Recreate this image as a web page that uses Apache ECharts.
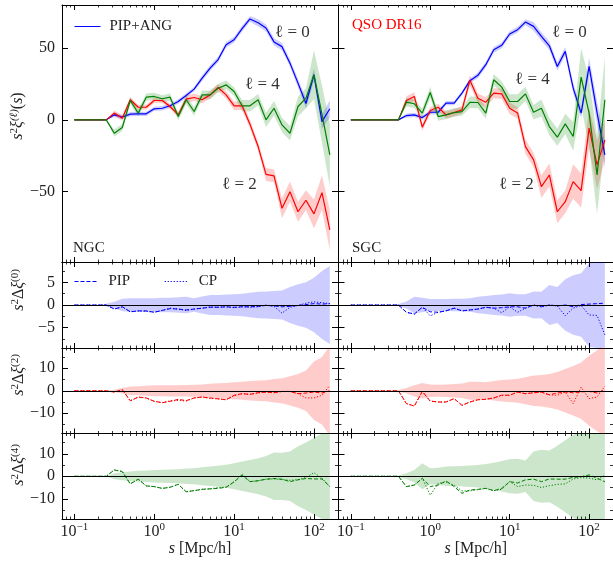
<!DOCTYPE html>
<html><head><meta charset="utf-8">
<script src="https://cdn.jsdelivr.net/npm/echarts@6/dist/echarts.min.js"></script>
<style>html,body{margin:0;padding:0;background:#fff}#c{width:613px;height:561px}</style>
</head><body><div id="c"></div>
<script>
// separation bins s [Mpc/h]
const S = [0.1,0.126,0.158,0.2,0.251,0.316,0.398,0.501,0.631,0.794,1,1.26,1.58,2,2.51,3.16,3.98,5.01,6.31,7.94,10,12.6,15.8,20,25.1,31.6,39.8,50.1,63.1,79.4,100,126,158];

// ---- top panels: s^2 xi_l (NGC) ----
const xi0N = [0,0,0,0,0,3.5,2,4,4.2,4.2,7.7,8.1,9.8,12.8,17,21.4,29,36,42,52.3,55.8,63.5,70.3,67.6,64,54.3,51,39.5,25.6,11.4,31.4,-1.2,7.7];
const xi2N = [0,0,0,0,0,4.7,1.2,14,8.8,8.8,13.5,13.5,9.3,3.5,14.4,15.6,14,17.4,22.5,17.4,9.8,9.8,-3,-18.6,-38,-39,-61.6,-50,-64,-56,-65.5,-50.7,-76.7];
const xi4N = [0,0,0,0,0,-9.3,-5.3,13.5,4.7,15.8,16.3,14.7,15.8,2.3,14,5.8,17.4,17.4,22,24.4,19.8,9.8,9.8,14,0,8.1,-3.5,-9.3,9.3,15.1,31.4,4,-24.4];
const err0N = [0,0,0,0,0,1.5,1.5,1.5,1.5,1.5,1.5,1.5,1.5,1.5,1.5,1.5,2,2,2,2,2,2,2,2.5,2.5,2.5,2.5,2.5,3,3.5,4.5,5,6];
const err2N = [0,0,0,0,0,1.8,1.8,1.8,1.8,1.8,1.8,1.8,1.8,1.8,2.5,2.5,2.5,2.5,2.5,2.5,3,3,3,3,4.5,4.5,7,7,7,7,10,12,14];
const err4N = [0,0,0,0,0,2.5,2.5,2.5,2.5,2.5,2.5,2.5,2.5,2.5,3,3,3,3,3,3,3,4,4,4,5,5,5,5,7,7,17,20,22];
// ---- top panels: s^2 xi_l (SGC) ----
const xi0S = [0,0,0,0,0,0,0,3,3.5,1.6,5.3,5.3,11.6,11.6,18.6,27.3,31,38.4,48.8,51.9,59.8,62.8,68.1,65.1,58.1,51.6,37.2,47.7,22.1,4.7,37.2,5,-24.4];
const xi2S = [0,0,0,0,0,0,0,13.5,16.3,-5.1,6.5,8.8,3.5,5.1,7,27.6,15.1,12.3,18.6,18.1,8.1,4.7,-18.6,-27.9,-46.5,-38.4,-64,-57,-43,-49.3,-5.8,-31.4,-14];
const xi4S = [0,0,0,0,0,0,0,12.3,11.2,4.7,19.1,2.3,3.5,5.1,5.8,12.2,12.1,4.7,27.9,22.8,12.8,12.8,18.1,5.3,8.1,-4.7,-12.1,-2.8,-11.6,29.8,4.7,-38.4,14];
const err0S = [0,0,0,0,0,0,0,1.5,1.5,1.5,1.5,1.5,1.5,1.5,1.5,1.5,2,2,2,2,2,2,2,3,3,3,3,3,3.5,3.5,6,8,9];
const err2S = [0,0,0,0,0,0,0,3,3,2.5,2.5,2.5,2.5,2.5,2.5,3.5,3.5,3.5,3.5,3.5,4,4,5,5,8,8,8,8,12,12,14,17,14];
const err4S = [0,0,0,0,0,0,0,3,3,3,4,3,3,3,3,4,4,4,4,4,5,5,5,5,6,6,6,7,10,20,24,27,30];

// ---- residual panels NGC ----
const band0N = [0,0,0,0,0.3,0.7,1.4,1.5,1.5,1.5,1.5,1.6,1.6,1.7,1.8,1.5,1.9,2.2,2.2,2.3,2.4,2.5,2.7,2.9,3,3.1,3.2,4,4.6,5,6,7.5,8.6];
const pip0N = [0,0,0,0,0,-0.9,-0.4,-1.5,-1.3,-1.3,-1.6,-1.2,-0.8,-0.9,-1.1,-0.9,-0.7,-0.5,-0.5,-0.4,-0.5,-0.4,-0.4,-0.3,-0.1,-0.2,-0.4,-0.3,-0.1,0.1,0.3,0.2,0.3];
const cp0N = [0,0,0,0,0,-0.9,-0.4,-1.5,-1.3,-1.4,-1.6,-1.2,-0.7,-0.9,-1.2,-0.9,-0.7,-0.4,-0.5,-0.4,-0.6,-0.4,-0.5,-0.4,0,-0.3,-1.8,-0.5,-0.1,0.4,0.7,0.5,0.3];
const band2N = [0,0,0,0,0,0.5,1.2,1.9,2,2.2,2.4,2.4,2.5,2.5,2.6,2.7,2.8,3.1,3.3,3.5,3.8,4,4.3,4.6,4.7,5.2,5.6,6.5,7.5,9,13,15,20];
const pip2N = [0,0,0,0,0,-0.6,0.5,-4.4,-2.8,-3.2,-4.7,-5.3,-4.7,-3.8,-4.4,-3.2,-2.8,-3.2,-3.6,-4,-2,-1.3,-1.6,-0.9,-0.6,-0.9,-0.3,-0.3,-1.3,-1,-0.6,-1,0];
const cp2N = [0,0,0,0,0,-0.6,0.5,-4.6,-2.8,-3.2,-4.7,-5.3,-4.5,-4.3,-4.6,-3.2,-2.8,-3.4,-3.6,-4,-2.2,-1.3,-1.6,-0.9,-0.6,-0.9,-0.3,-0.3,-1.3,-3.2,-3.2,-2,2.4];
const band4N = [0,0,0,0,0,1.3,1.8,2.1,2.4,2.6,2.8,2.9,3,3.1,3.4,3.6,4,4.3,4.7,5.1,5.8,6.6,7.2,8,9,10.6,10.5,11,13.3,15,17,19,21];
const pip4N = [0,0,0,0,0,2.8,2.1,-3.4,-1.3,-4.3,-4.6,-5.4,-4.9,-3.6,-6.9,-6.4,-5.8,-5.6,-5.4,-4.9,-2.5,0.5,-2.4,-2,-1.3,-1,-1.3,-2.4,-1.6,-1,-1.2,-1.2,-4.6];
const cp4N = [0,0,0,0,0,2.8,2.1,-3.4,-1.3,-4.3,-4.6,-5.4,-4.9,-3.6,-6.9,-6.4,-5.8,-5.6,-5,-4.9,-2.5,1,-2.4,-2,-1.3,-1.2,-1.5,-1.8,-1.5,-0.6,1.6,-0.9,-4.6];
// ---- residual panels SGC ----
const band0S = [0,0,0,0,0,0,0.2,0.8,1.8,1.6,1.3,1.3,1.3,1.4,1.4,1.5,1.8,2,2.2,2.3,2.6,2.4,2.4,3,2.9,4.4,4,5.7,6.6,7,9.2,9.5,9.5];
const pip0S = [0,0,0,0,0,0,0,-1.6,-2,-0.5,-1.5,-1.6,-1.3,-0.7,-1.3,-1.1,-0.9,-0.5,-0.7,-0.6,-0.4,-0.4,-0.7,0,-0.4,0,-0.2,0,-0.4,0.1,0.2,0.3,0.4];
const cp0S = [0,0,0,0,0,0,0,-1.6,-2,-0.5,-2.4,-1.6,-1.3,-0.7,-1.3,-1.1,-0.9,-0.5,-0.7,-1.7,-0.4,-1.6,-0.7,0,-0.4,0,-0.2,-2.4,-0.7,-0.1,-2.2,-2.3,-6.6];
const band2S = [0,0,0,0,0,0,0.3,1.2,2.5,3.4,2.8,2.7,2.8,3,3.2,4,4,3.8,4.3,4.8,5,5.3,6,6.8,7,7.5,8.3,9.7,11,12.6,15.6,18,20];
const pip2S = [0,0,0,0,0,0,0,-5.7,-6.8,-0.3,-4.6,-5,-5,-3.5,-6.5,-5,-4,-3.8,-3.2,-2,-2,-0.6,-1.3,-0.9,-0.6,-1.8,-1,-0.6,-0.9,-0.5,-0.3,-1,0.5];
const cp2S = [0,0,0,0,0,0,0,-5.7,-6.8,-0.3,-4.6,-5,-5,-3.5,-6.5,-5,-4,-3.8,-3.2,-2,-2,-0.6,-1.3,-0.9,-0.6,-1.8,-2,-0.6,-5.7,1.6,-3.5,-2.8,2];
const band4S = [0,0,0,0,0,0,0.3,1.3,2.8,5.8,3.6,3.8,4.3,4.4,4.6,4.8,5,5.5,6,6.8,7.6,7.8,7,11,11.8,11.5,13.6,16,18.5,20,21,22,22];
const pip4S = [0,0,0,0,0,0,0,-4.6,-3.9,-0.9,-4.6,-3.9,-2.1,-4.6,-7.6,-6.1,-5.8,-5.4,-6.4,-5.4,-2.4,-3,-1.6,-1.3,-2.4,-1.2,-1.3,-1.3,-0.5,-0.2,0.6,-0.9,-2.4];
const cp4S = [0,0,0,0,0,0,0,-4.6,-3.9,-0.9,-8.4,-3.2,-2.5,-4,-6.5,-6.5,-6,-5.4,-6.4,-5.8,-2.4,-4.6,-3.9,-4,-5,-4.2,-3.6,-3.4,-1.2,-0.6,-0.8,-1.6,0.5];

// tick values
const xMajor = [0.1, 1, 10, 100];
const xMinor = [0.08,0.09,0.2,0.3,0.4,0.5,0.6,0.7,0.8,0.9,2,3,4,5,6,7,8,9,20,30,40,50,60,70,80,90];
const yMajorRows = [[-50,0,50],[-5,0,5],[-10,0,10],[-10,0,10]];
const yMinorRows = [[],[-7.5,-2.5,2.5,7.5],[-15,-5,5,15],[-15,-5,5,15]];
const yRange = [[-99,80],[-9.5,9.5],[-19,19],[-19,19]];

const FONT = "'Liberation Serif','DejaVu Serif',serif";
const BLUE = '#0000ff', RED = '#ff0000', GREEN = '#008000';
const FBLUE = 'rgba(0,0,255,0.2)', FRED = 'rgba(255,0,0,0.2)', FGREEN = 'rgba(0,128,0,0.2)';
const DASH = [4,2], DOT = [1.2,1.8];

const cols = [{left:62, width:276},{left:338.5, width:276}];
const rows = [{top:5,height:257},{top:262,height:86},{top:348,height:85.5},{top:433.5,height:85.5}];

const grids = [], xAxes = [], yAxes = [], series = [];
const minus = v => String(v).replace('-', '\u2212');

for (let r = 0; r < 4; r++) {
  for (let c = 0; c < 2; c++) {
    const g = r*2 + c;
    grids.push({left: cols[c].left, width: cols[c].width, top: rows[r].top, height: rows[r].height, containLabel:false});
    const xBase = {type:'log', logBase:10, min:0.07, max:200, gridIndex:g, splitLine:{show:false}, axisPointer:{show:false}};
    const bottomLabels = (r === 3);
    xAxes.push(Object.assign({}, xBase, {
      position:'bottom',
      axisLine:{show:true, onZero:false, lineStyle:{color:'#000', width:1}},
      axisTick:{show:true, inside:true, length:5, customValues: xMajor, lineStyle:{color:'#000', width:1}},
      axisLabel:{show: bottomLabels, customValues: xMajor, margin:3, color:'#222', fontFamily:FONT, fontSize:16,
        formatter: v => '10{sup|' + minus(Math.round(Math.log10(v))) + '}',
        rich:{sup:{fontSize:11, fontFamily:FONT, color:'#222', padding:[0,0,8,0]}}},
      name: bottomLabels ? '{i|s} [Mpc/h]' : '', nameLocation:'middle', nameGap:21,
      nameTextStyle:{fontFamily:FONT, fontSize:16, color:'#222', rich:{i:{fontStyle:'italic', fontFamily:FONT, fontSize:16, color:'#222'}}}
    }));
    xAxes.push(Object.assign({}, xBase, {position:'bottom', axisLine:{show:false, onZero:false},
      axisTick:{show:true, inside:true, length:2.5, customValues:xMinor, lineStyle:{color:'#000', width:0.8}}, axisLabel:{show:false}}));
    xAxes.push(Object.assign({}, xBase, {position:'top', axisLine:{show:true, onZero:false, lineStyle:{color:'#000', width:1}},
      axisTick:{show:true, inside:true, length:5, customValues:xMajor, lineStyle:{color:'#000', width:1}}, axisLabel:{show:false}}));
    xAxes.push(Object.assign({}, xBase, {position:'top', axisLine:{show:false, onZero:false},
      axisTick:{show:true, inside:true, length:2.5, customValues:xMinor, lineStyle:{color:'#000', width:0.8}}, axisLabel:{show:false}}));

    const yBase = {type:'value', min:yRange[r][0], max:yRange[r][1], gridIndex:g, splitLine:{show:false}, axisPointer:{show:false}};
    yAxes.push(Object.assign({}, yBase, {position:'left',
      axisLine:{show:true, onZero:false, lineStyle:{color:'#000', width:1}},
      axisTick:{show:true, inside:true, length:6, customValues:yMajorRows[r], lineStyle:{color:'#000', width:1}},
      axisLabel:{show: c === 0, customValues:yMajorRows[r], margin:7, color:'#222', fontFamily:FONT, fontSize:16, formatter: v => minus(v)}}));
    yAxes.push(Object.assign({}, yBase, {position:'left', axisLine:{show:false, onZero:false},
      axisTick:{show: yMinorRows[r].length>0, inside:true, length:3, customValues: yMinorRows[r].length ? yMinorRows[r] : [0], lineStyle:{color:'#000', width:0.8}}, axisLabel:{show:false}}));
    yAxes.push(Object.assign({}, yBase, {position:'right',
      axisLine:{show:true, onZero:false, lineStyle:{color:'#000', width:1}},
      axisTick:{show:true, inside:true, length:6, customValues:yMajorRows[r], lineStyle:{color:'#000', width:1}}, axisLabel:{show:false}}));
    yAxes.push(Object.assign({}, yBase, {position:'right', axisLine:{show:false, onZero:false},
      axisTick:{show: yMinorRows[r].length>0, inside:true, length:3, customValues: yMinorRows[r].length ? yMinorRows[r] : [0], lineStyle:{color:'#000', width:0.8}}, axisLabel:{show:false}}));
  }
}

function band(g, center, err, fill) {
  const lo = center.map((v,i) => v - err[i]);
  const hi = center.map((v,i) => v + err[i]);
  return {
    type:'custom', name:'', xAxisIndex:g*4, yAxisIndex:g*4, clip:true, silent:true, z:1,
    data: S.map((s,i) => [s, lo[i], hi[i]]),
    encode:{x:0, y:[1,2]},
    renderItem: (params, api) => {
      if (params.dataIndex !== 0) return null;
      const up = [], dn = [];
      for (let i = 0; i < S.length; i++) {
        up.push(api.coord([S[i], hi[i]]));
        dn.push(api.coord([S[i], lo[i]]));
      }
      return {type:'polygon', shape:{points: up.concat(dn.reverse())}, style:{fill:fill, stroke:null}};
    }
  };
}
function line(g, name, vals, color, type, width) {
  return {
    type:'line', name:name, xAxisIndex:g*4, yAxisIndex:g*4, showSymbol:false, symbol:'none', silent:true, animation:false, z:3,
    data: S.map((s,i) => [s, vals[i]]),
    itemStyle:{color:color},
    lineStyle:{color:color, width:width, type:type}
  };
}
const zeros = S.map(() => 0);

// residual panels first so legend "PIP"/"CP" take row-2 blue style
const resid = [
  [2, band0N, pip0N, cp0N, FBLUE, BLUE],
  [3, band0S, pip0S, cp0S, FBLUE, BLUE],
  [4, band2N, pip2N, cp2N, FRED, RED],
  [5, band2S, pip2S, cp2S, FRED, RED],
  [6, band4N, pip4N, cp4N, FGREEN, GREEN],
  [7, band4S, pip4S, cp4S, FGREEN, GREEN]
];
resid.forEach(([g, b, p, q, f, col]) => {
  series.push(band(g, zeros, b, f));
  const pl = line(g, 'PIP', p, col, DASH, 1);
  pl.markLine = {silent:true, symbol:'none', animation:false, label:{show:false}, lineStyle:{color:'#000', width:1, type:'solid'}, data:[{yAxis:0}]};
  series.push(pl);
  series.push(line(g, 'CP', q, col, DOT, 1));
});
// top panels
[[0, xi0N, xi2N, xi4N, err0N, err2N, err4N],[1, xi0S, xi2S, xi4S, err0S, err2S, err4S]].forEach(([g, a0, a2, a4, e0, e2, e4]) => {
  series.push(band(g, a0, e0, FBLUE));
  series.push(band(g, a2, e2, FRED));
  series.push(band(g, a4, e4, FGREEN));
  series.push(line(g, g === 0 ? 'PIP+ANG' : 'l0', a0, BLUE, 'solid', 1.2));
  series.push(line(g, 'l2', a2, RED, 'solid', 1.2));
  series.push(line(g, 'l4', a4, GREEN, 'solid', 1.2));
});

const txt = (x, y, text, size, fill, extra) => Object.assign({type:'text', x:x, y:y, silent:true,
  style:{text:text, fontFamily:FONT, fontSize:size, fill:fill, textAlign:'left', textVerticalAlign:'middle'}}, extra || {});
const richY = {
  i:{fontStyle:'italic', fontFamily:FONT, fontSize:16, fill:'#222'},
  sup:{fontFamily:FONT, fontSize:11, fill:'#222', padding:[0,0,8,0]},
  supi:{fontFamily:FONT, fontStyle:'italic', fontSize:11, fill:'#222', padding:[0,0,8,0]}
};
const ylab = (x, y, text) => ({type:'text', x:x, y:y, rotation:Math.PI/2, silent:true,
  style:{text:text, rich:richY, fontFamily:FONT, fontSize:16, fill:'#222', textAlign:'center', textVerticalAlign:'middle'}});

const option = {
  animation:false,
  backgroundColor:'#fff',
  grid: grids, xAxis: xAxes, yAxis: yAxes, series: series,
  legend: [
    {data:[{name:'PIP+ANG', lineStyle:{color:BLUE, width:1, type:'solid'}}], left:69, top:14, itemWidth:26, itemHeight:10, selectedMode:false, itemStyle:{opacity:0},
     textStyle:{fontFamily:FONT, fontSize:15, color:'#222', padding:[0,0,0,4]}},
    {data:[{name:'PIP', lineStyle:{color:BLUE, width:1, type:DASH}}, {name:'CP', lineStyle:{color:BLUE, width:1, type:DOT}}],
     left:69, top:269, itemWidth:24, itemHeight:10, itemGap:34, selectedMode:false, itemStyle:{opacity:0},
     textStyle:{fontFamily:FONT, fontSize:15, color:'#222', padding:[0,0,0,5]}}
  ],
  graphic: [
    txt(352, 25, 'QSO DR16', 15, RED),
    txt(73, 248, 'NGC', 15, '#222'),
    txt(352, 248, 'SGC', 15, '#222'),
    txt(275, 33, 'ℓ = 0', 17, '#333'),
    txt(245, 85, 'ℓ = 4', 17, '#333'),
    txt(222, 185, 'ℓ = 2', 17, '#333'),
    txt(552, 33, 'ℓ = 0', 17, '#333'),
    txt(515, 80, 'ℓ = 4', 17, '#333'),
    txt(499, 185, 'ℓ = 2', 17, '#333'),
    ylab(18, 116, '{i|s}{sup|2}{i|ξ}{supi|(ℓ)}({i|s})'),
    ylab(19, 290, '{i|s}{sup|2}Δ{i|ξ}{sup|(0)}'),
    ylab(19, 375, '{i|s}{sup|2}Δ{i|ξ}{sup|(2)}'),
    ylab(19, 465, '{i|s}{sup|2}Δ{i|ξ}{sup|(4)}')
  ]
};
const chart = echarts.init(document.getElementById('c'), null, {renderer:'canvas'});
chart.setOption(option);
</script></body></html>
